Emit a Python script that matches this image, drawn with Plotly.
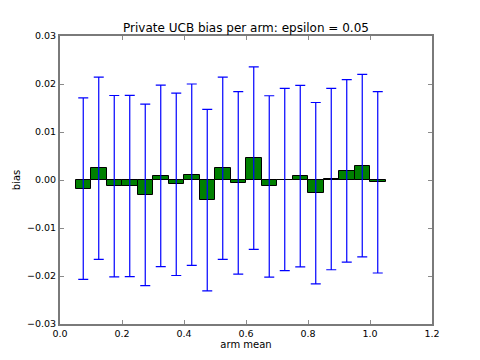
import plotly.graph_objects as go

# arm means (left edges of the bars) and the bias
arm_means = [0.05, 0.10, 0.15, 0.20, 0.25, 0.30, 0.35, 0.40, 0.45, 0.50,
             0.55, 0.60, 0.65, 0.70, 0.75, 0.80, 0.85, 0.90, 0.95, 1.00]
bias = [-0.0018, 0.00245, -0.0013, -0.00125, -0.0031, 0.00085, -0.0009, 0.0011, -0.0042, 0.00245,
        -0.0006, 0.00455, -0.00135, 0.0001, 0.0008, -0.00275, 0.0002, 0.0019, 0.003, -0.00047]
bias_err = [0.0189, 0.019, 0.0189, 0.0189, 0.0189, 0.0189, 0.019, 0.0189, 0.0189, 0.019,
            0.019, 0.019, 0.0189, 0.019, 0.0189, 0.0189, 0.0189, 0.019, 0.019, 0.0189]

x_ticks = [0.0, 0.2, 0.4, 0.6, 0.8, 1.0, 1.2]
y_ticks = [-0.03, -0.02, -0.01, 0.0, 0.01, 0.02, 0.03]

fig = go.Figure()
fig.add_trace(go.Bar(
    x=arm_means,
    y=bias,
    width=0.05,
    offset=0,
    marker=dict(color="#008000", line=dict(color="black", width=1)),
    error_y=dict(type="data", array=bias_err, color="#0000ff", thickness=1.2, width=5),
    showlegend=False,
))

axis_style = dict(
    showline=True, mirror="ticks", linecolor="#7a7a7a", linewidth=2,
    ticks="inside", ticklen=4, tickcolor="#8a8a8a",
    showgrid=False, zeroline=False, automargin=False,
    tickfont=dict(size=9.5, color="black"),
)

# page body has an 8px margin, so the figure is sized to fill the rest of the window
fig.update_layout(
    width=464, height=344,
    margin=dict(l=52, r=40, t=28, b=28, autoexpand=False),
    paper_bgcolor="white", plot_bgcolor="white",
    font=dict(family="DejaVu Sans", color="black"),
    title=dict(text="Private UCB bias per arm: epsilon = 0.05", x=0.5, xref="paper",
               y=0.942, yref="container", yanchor="middle", font=dict(size=12)),
    xaxis=dict(range=[0, 1.2], tickvals=x_ticks, tickformat=".1f",
               title=dict(text="arm mean", font=dict(size=10), standoff=3), **axis_style),
    yaxis=dict(range=[-0.03, 0.03], tickvals=y_ticks, tickformat=".2f",
               title=dict(text="bias", font=dict(size=10), standoff=4), **axis_style),
    bargap=0,
)

fig.write_html("out.html")
